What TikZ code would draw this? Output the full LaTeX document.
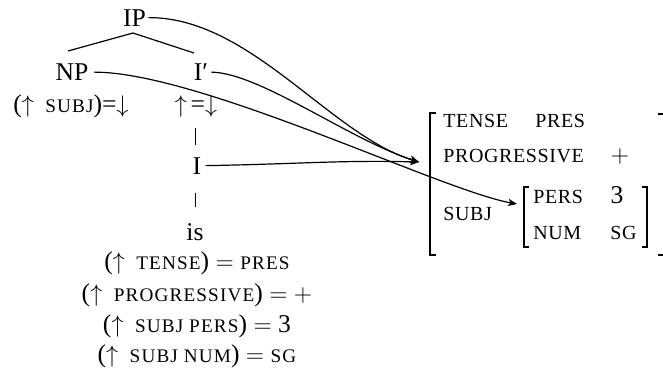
\documentclass[tikz,border=0pt]{standalone}
\usepackage{fontspec}
\setmainfont{Liberation Serif}
\usetikzlibrary{arrows.meta}
\newcommand\smc[1]{{\fontsize{9.6}{10}\selectfont\addfontfeature{LetterSpace=6}#1}}
\newcommand\msc[1]{{\fontsize{10}{12}\selectfont\addfontfeature{LetterSpace=3}#1}}
\newcommand\up{$\uparrow$}
\newcommand\dn{$\downarrow$}
\newcommand\upsp{$\uparrow$\hspace{0.45em}}
\begin{document}
\begin{tikzpicture}[x=0.5pt,y=-0.5pt,
  every node/.style={inner sep=0pt, anchor=base, font=\fontsize{12.8}{14}\selectfont},
  conn/.style={line width=0.6pt},
  arr/.style={conn,-{Stealth[length=4.5pt,width=3.6pt,inset=1.2pt]}},
  fs/.style={anchor=base west}]
\useasboundingbox (0,0) rectangle (663,371);
% tree
\node (IP) at (134.5,26) {IP};
\node (NP) at (72,80.5) {NP};
\node (Ib) at (201,80.5) {I′};
\node (npann) at (71,112) {(\upsp\smc{SUBJ})=\dn};
\node (ibann) at (196,112) {\up\hspace{0.15em}=\dn};
\node (I) at (197,174) {I};
\node (is) at (195,240) {is};
\node (e1) at (197,269) {(\upsp\smc{TENSE}) $=$ \smc{PRES}};
\node (e2) at (197,301) {(\upsp\smc{PROGRESSIVE}) $=$ $+$};
\node (e3) at (197,332) {(\upsp\smc{SUBJ PERS}) $=$ 3};
\node (e4) at (197,362) {(\upsp\smc{SUBJ NUM}) $=$ \smc{SG}};
\coordinate (apex) at (133,33);
\coordinate (npt) at (68,51);
\coordinate (ibt) at (194,53);
\draw[conn] (npt) -- (apex) -- (ibt);
\coordinate (v1a) at (195.5,128);
\coordinate (v1b) at (195.5,145);
\coordinate (v2a) at (195.5,193);
\coordinate (v2b) at (195.5,207);
\draw[conn] (v1a) -- (v1b);
\draw[conn] (v2a) -- (v2b);
% f-structure
\node[fs] (tense) at (443,127) {\msc{TENSE}};
\node[fs] (pres) at (535,127) {\msc{PRES}};
\node[fs] (prog) at (443,162) {\msc{PROGRESSIVE}};
\node (plus) at (620,162) {$+$};
\node[fs] (subj) at (443,220) {\msc{SUBJ}};
\node[fs] (pers) at (533,203) {\msc{PERS}};
\node (three) at (617,203) {3};
\node[fs] (num) at (533,239) {\msc{NUM}};
\node[fs] (sg) at (610,239) {\msc{SG}};
\draw[conn] (436,113) -- (430,113) -- (430,255) -- (436,255);
\draw[conn] (658,114) -- (664,114) -- (664,255) -- (658,255);
\draw[conn] (529,187) -- (524,187) -- (524,247) -- (529,247);
\draw[conn] (642,187) -- (647,187) -- (647,247) -- (642,247);
\coordinate (fsin) at (419,162);
\coordinate (subjin) at (517,204);
% connectors
\draw[arr] ([xshift=1pt]IP.east) .. controls (250,17) and (330,135) .. (fsin);
\draw[arr] ([xshift=1.5pt]Ib.east) .. controls (260,73) and (350,140) .. (fsin);
\draw[arr] ([xshift=2.5pt]NP.east) .. controls (200,72) and (440,190) .. (subjin);
\draw[arr] ([xshift=2pt]I.east) .. controls (300,164) and (340,160) .. (fsin);
\end{tikzpicture}
\end{document}
